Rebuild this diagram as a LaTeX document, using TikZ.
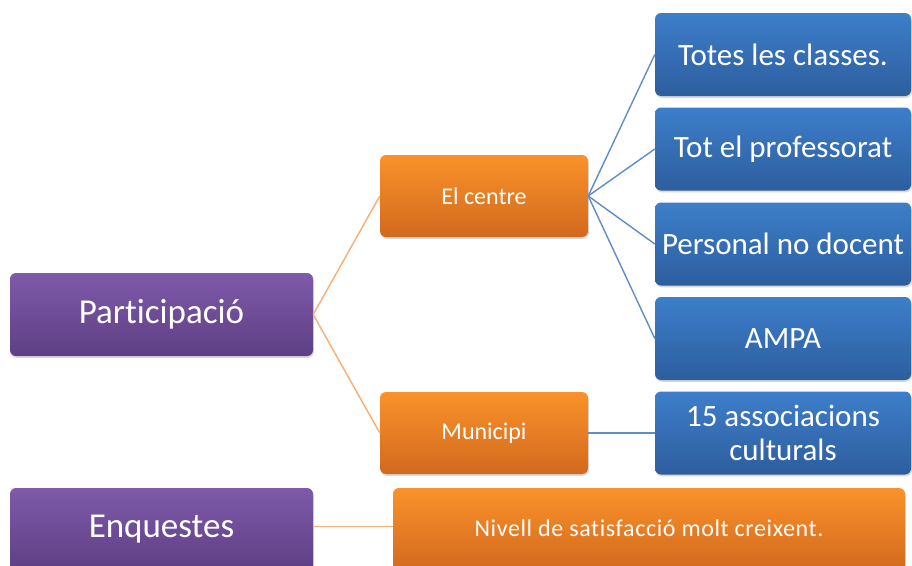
\documentclass[tikz,border=0pt]{standalone}
\usepackage{fontspec}
\setmainfont{Carlito}[Ligatures={NoCommon}]
\usetikzlibrary{shadows}
\definecolor{purT}{HTML}{7E5AA9}
\definecolor{purB}{HTML}{5E3F84}
\definecolor{orT}{HTML}{FA922B}
\definecolor{orB}{HTML}{D2691D}
\definecolor{blT}{HTML}{3D7ECA}
\definecolor{blB}{HTML}{2D5E9E}
\definecolor{orLine}{HTML}{F9AE72}
\definecolor{blLine}{HTML}{5F8CCB}
\tikzset{
  box/.style={rounded corners=6pt, inner sep=2pt, text=white, align=center,
    drop shadow={shadow xshift=0.8pt, shadow yshift=-1.8pt, opacity=0.25, fill=black!60}},
  purbox/.style={box, top color=purT, bottom color=purB, minimum width=303pt, minimum height=83pt,
    font=\fontsize{35}{40}\selectfont},
  orbox/.style={box, top color=orT, bottom color=orB, minimum height=82pt,
    font=\fontsize{24}{28}\selectfont},
  blbox/.style={box, top color=blT, bottom color=blB, minimum width=256pt, minimum height=83pt,
    font=\fontsize{31}{35}\selectfont},
  orcon/.style={draw=orLine, line width=1.4pt},
  blcon/.style={draw=blLine, line width=1.4pt}
}
\begin{document}
\begin{tikzpicture}[x=1pt,y=-1pt]
\useasboundingbox (0,0) rectangle (912,565);
\clip (0,0) rectangle (912,565);
\fill[white] (0,0) rectangle (912,565);
\node[purbox] (part) at (161.5,314.5) {Participació};
\node[purbox] (enq) at (161.5,529.5) {\raisebox{3pt}{Enquestes}};
\node[orbox, minimum width=208pt] (centre) at (484,196) {El centre};
\node[orbox, minimum width=208pt] (muni) at (484,433) {Municipi};
\node[orbox, minimum width=512pt, minimum height=83pt, font=\fontsize{24}{28}\selectfont\addfontfeature{LetterSpace=2.5}] (niv) at (649,529.5) {\raisebox{3pt}{Nivell de satisfacció molt creixent.}};
\node[blbox] (b1) at (783,54.5) {Totes les classes.};
\node[blbox] (b2) at (783,149) {Tot el professorat};
\node[blbox] (b3) at (783,244) {Personal no docent};
\node[blbox] (b4) at (783,338.5) {AMPA};
\node[blbox, font=\fontsize{31}{34}\selectfont] (b5) at (783,433) {15 associacions\\culturals};
\draw[orcon] (part.east) -- (centre.west);
\draw[orcon] (part.east) -- (muni.west);
\draw[orcon] (enq.east) ++(0,-3) -- ([yshift=3pt]niv.west);
\draw[blcon] (centre.east) -- (b1.west);
\draw[blcon] (centre.east) -- (b2.west);
\draw[blcon] (centre.east) -- (b3.west);
\draw[blcon] (centre.east) -- (b4.west);
\draw[blcon] (muni.east) -- (b5.west);
\end{tikzpicture}
\end{document}
